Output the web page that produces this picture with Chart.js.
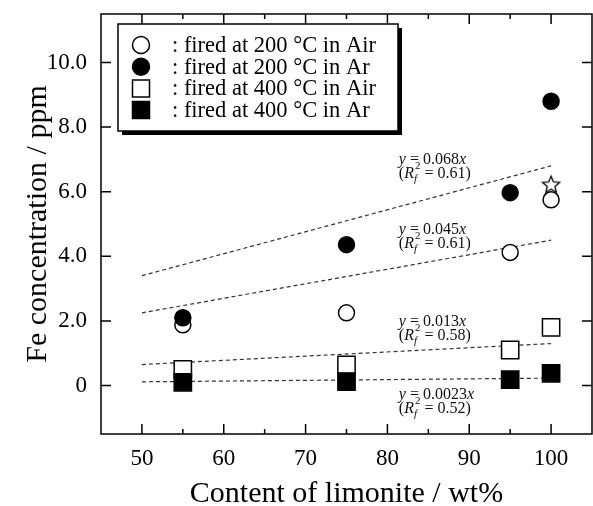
<!DOCTYPE html>
<html>
<head>
<meta charset="utf-8">
<script src="https://cdn.jsdelivr.net/npm/chart.js@4.4.1/dist/chart.umd.min.js"></script>
<style>
html, body { margin: 0; padding: 0; background: #fff; }
</style>
</head>
<body>
<canvas id="chart" width="593" height="506"></canvas>
<script>
// values
var contents = [55, 75, 95, 100];
var fired200Air = [1.88, 2.25, 4.12, 5.75];
var fired200Ar = [2.1, 4.36, 5.97, 8.8];
var fired400Air = [0.5, 0.64, 1.1, 1.8];
var fired400Ar = [0.1, 0.12, 0.18, 0.38];
var starPoint = [100, 6.2];

// fitted lines, drawn from x=50 to x=100
var fitRange = [50, 100];
var fit200Ar = [3.4, 6.8];
var fit200Air = [2.25, 4.5];
var fit400Air = [0.65, 1.3];
var fit400Ar = [0.115, 0.23];
var fitSlopes = ['0.068', '0.045', '0.013', '0.0023'];
var fitR2 = ['0.61', '0.61', '0.58', '0.52'];

var xTicks = [50, 60, 70, 80, 90, 100];
var yTicks = [0, 2, 4, 6, 8, 10];
var legendLabels = [
    ': fired at 200 \u00B0C in Air',
    ': fired at 200 \u00B0C in Ar',
    ': fired at 400 \u00B0C in Air',
    ': fired at 400 \u00B0C in Ar'
];

var SERIF = '"Liberation Serif", "Times New Roman", serif';

function pts(ys) {
    return ys.map(function (y, i) { return { x: contents[i], y: y }; });
}
function fitPts(ys) {
    return [{ x: fitRange[0], y: ys[0] }, { x: fitRange[1], y: ys[1] }];
}

function makeStar(r) {
    var c = document.createElement('canvas');
    var s = Math.ceil(r * 2 + 4);
    c.width = s; c.height = s;
    var g = c.getContext('2d');
    g.beginPath();
    for (var i = 0; i < 10; i++) {
        var rad = i % 2 ? r * 0.45 : r;
        var a = -Math.PI / 2 + i * Math.PI / 5;
        g.lineTo(s / 2 + rad * Math.cos(a), s / 2 + rad * Math.sin(a));
    }
    g.closePath();
    g.fillStyle = '#fff';
    g.fill();
    g.lineWidth = 1.3;
    g.strokeStyle = '#000';
    g.stroke();
    return c;
}

function lineSet(ys) {
    return {
        type: 'line', data: fitPts(ys), order: 10,
        borderColor: '#333', borderWidth: 1.2, borderDash: [4, 3],
        pointRadius: 0, fill: false
    };
}

function noPadding(s) {
    s.paddingTop = 0; s.paddingBottom = 0;
    s.paddingLeft = 0; s.paddingRight = 0;
}

// frame with inward ticks on all four sides
var framePlugin = {
    id: 'frame',
    afterDatasetsDraw: function (chart) {
        var ctx = chart.ctx, a = chart.chartArea;
        var xs = chart.scales.x, ys = chart.scales.y;
        ctx.save();
        ctx.strokeStyle = '#000';
        ctx.lineWidth = 1.5;
        ctx.strokeRect(a.left, a.top, a.right - a.left, a.bottom - a.top);
        ctx.beginPath();
        xTicks.forEach(function (v) {
            var px = xs.getPixelForValue(v);
            ctx.moveTo(px, a.bottom); ctx.lineTo(px, a.bottom - 10);
            ctx.moveTo(px, a.top); ctx.lineTo(px, a.top + 10);
            var pm = xs.getPixelForValue(v + 5);
            if (v + 5 < xs.max) {
                ctx.moveTo(pm, a.bottom); ctx.lineTo(pm, a.bottom - 5);
                ctx.moveTo(pm, a.top); ctx.lineTo(pm, a.top + 5);
            }
        });
        yTicks.forEach(function (v) {
            var py = ys.getPixelForValue(v);
            ctx.moveTo(a.left, py); ctx.lineTo(a.left + 10, py);
            ctx.moveTo(a.right, py); ctx.lineTo(a.right - 10, py);
        });
        ctx.stroke();
        ctx.restore();
    }
};

// fit equations next to each dashed line
var eqAnchors = [
    { x: 81.4, y: 6.98 },
    { x: 81.4, y: 4.82 },
    { x: 81.4, y: 1.97 },
    { x: 81.4, y: -0.29 }
];
var eqPlugin = {
    id: 'equations',
    afterDatasetsDraw: function (chart) {
        var ctx = chart.ctx;
        var xs = chart.scales.x, ys = chart.scales.y;
        ctx.save();
        ctx.fillStyle = '#111';
        ctx.textBaseline = 'middle';
        ctx.textAlign = 'left';
        eqAnchors.forEach(function (p, i) {
            var x = xs.getPixelForValue(p.x);
            var y = ys.getPixelForValue(p.y);
            var cx = x;
            ctx.font = 'italic 16px ' + SERIF;
            ctx.fillText('y', cx, y); cx += ctx.measureText('y').width;
            ctx.font = '16px ' + SERIF;
            var mid = ' = ' + fitSlopes[i];
            ctx.fillText(mid, cx, y); cx += ctx.measureText(mid).width;
            ctx.font = 'italic 16px ' + SERIF;
            ctx.fillText('x', cx, y);

            var y2 = y + 14;
            cx = x;
            ctx.font = '16px ' + SERIF;
            ctx.fillText('(', cx, y2); cx += ctx.measureText('(').width;
            ctx.font = 'italic 16px ' + SERIF;
            ctx.fillText('R', cx, y2); cx += ctx.measureText('R').width;
            ctx.font = 'italic 11px ' + SERIF;
            ctx.fillText('f', cx, y2 + 5);
            var w1 = ctx.measureText('f').width;
            ctx.font = '11px ' + SERIF;
            ctx.fillText('2', cx + 1, y2 - 8);
            cx += Math.max(w1, ctx.measureText('2').width) + 1;
            ctx.font = '16px ' + SERIF;
            ctx.fillText(' = ' + fitR2[i] + ')', cx, y2);
        });
        ctx.restore();
    }
};

// boxed legend with drop shadow, inside the plot
var legendPlugin = {
    id: 'boxLegend',
    afterDraw: function (chart) {
        var ctx = chart.ctx, a = chart.chartArea;
        var bx = a.left + 17, by = a.top + 10, bw = 280, bh = 107;
        ctx.save();
        ctx.fillStyle = '#000';
        ctx.fillRect(bx + 4, by + 4, bw, bh);
        ctx.fillStyle = '#fff';
        ctx.fillRect(bx, by, bw, bh);
        ctx.strokeStyle = '#000';
        ctx.lineWidth = 1.5;
        ctx.strokeRect(bx, by, bw, bh);
        ctx.font = '22.5px ' + SERIF;
        ctx.textBaseline = 'middle';
        ctx.textAlign = 'left';
        legendLabels.forEach(function (t, i) {
            var ry = by + 21 + i * 21.7;
            var mx = bx + 23;
            ctx.beginPath();
            if (i < 2) {
                ctx.arc(mx, ry, 8.5, 0, Math.PI * 2);
            } else {
                ctx.rect(mx - 8.5, ry - 8.5, 17, 17);
            }
            ctx.fillStyle = (i % 2 === 0) ? '#fff' : '#000';
            ctx.fill();
            ctx.lineWidth = 1.5;
            ctx.strokeStyle = '#000';
            ctx.stroke();
            ctx.fillStyle = '#000';
            ctx.fillText(t, bx + 54, ry + 1);
        });
        ctx.restore();
    }
};

var openStyle = { backgroundColor: '#fff', borderColor: '#000', borderWidth: 1.5 };
var fullStyle = { backgroundColor: '#000', borderColor: '#000', borderWidth: 1.5 };

var datasets = [
    lineSet(fit200Ar),
    lineSet(fit200Air),
    lineSet(fit400Air),
    lineSet(fit400Ar),
    Object.assign({ label: legendLabels[0], data: pts(fired200Air), pointStyle: 'circle', pointRadius: 8, order: 4 }, openStyle),
    Object.assign({ label: legendLabels[1], data: pts(fired200Ar), pointStyle: 'circle', pointRadius: 8, order: 3 }, fullStyle),
    Object.assign({ label: legendLabels[2], data: pts(fired400Air), pointStyle: 'rect', pointRadius: 12.2, order: 4 }, openStyle),
    Object.assign({ label: legendLabels[3], data: pts(fired400Ar), pointStyle: 'rect', pointRadius: 12.2, order: 3 }, fullStyle),
    { label: 'star', data: [{ x: starPoint[0], y: starPoint[1] }], pointStyle: makeStar(9), order: 1 }
];

new Chart(document.getElementById('chart'), {
    type: 'scatter',
    data: { datasets: datasets },
    options: {
        responsive: false,
        animation: false,
        devicePixelRatio: 1,
        layout: { autoPadding: false, padding: { top: 14, right: 1, left: 0, bottom: 0 } },
        plugins: { legend: { display: false }, tooltip: { enabled: false } },
        scales: {
            x: {
                type: 'linear', min: 45, max: 105,
                afterBuildTicks: function (s) { s.ticks = xTicks.map(function (v) { return { value: v }; }); },
                afterFit: function (s) { s.height = 72; noPadding(s); },
                grid: { display: false }, border: { display: false },
                ticks: { color: '#000', padding: 3, maxRotation: 0, font: { family: SERIF, size: 23 } },
                title: {
                    display: true, text: 'Content of limonite / wt%', color: '#000',
                    font: { family: SERIF, size: 30, lineHeight: 0.8 }, padding: 0
                }
            },
            y: {
                type: 'linear', min: -1.5, max: 11.5,
                afterBuildTicks: function (s) { s.ticks = yTicks.map(function (v) { return { value: v }; }); },
                afterFit: function (s) { s.width = 101; noPadding(s); },
                grid: { display: false }, border: { display: false },
                ticks: {
                    color: '#000', padding: 6, font: { family: SERIF, size: 23 },
                    callback: function (v) { return v === 0 ? '0' : v.toFixed(1); }
                },
                title: {
                    display: true, text: 'Fe concentration / ppm', color: '#000',
                    font: { family: SERIF, size: 30, lineHeight: 1.2 }, padding: { top: 20, bottom: 0 }
                }
            }
        }
    },
    plugins: [framePlugin, eqPlugin, legendPlugin]
});
</script>
</body>
</html>
